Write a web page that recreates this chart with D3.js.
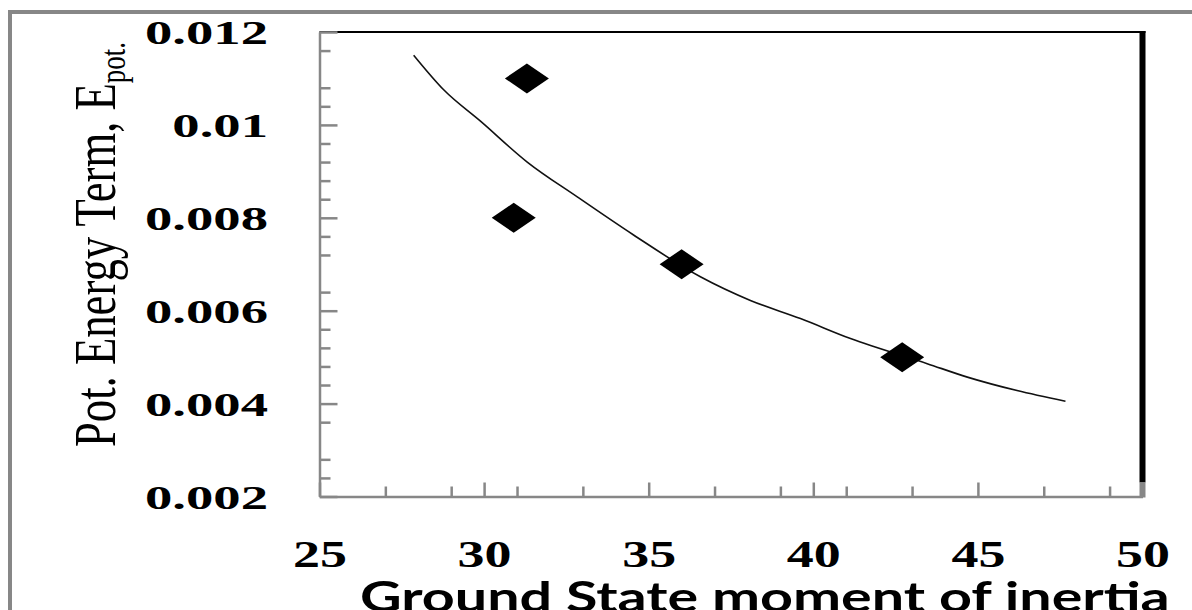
<!DOCTYPE html>
<html>
<head>
<meta charset="utf-8">
<script src="https://cdn.jsdelivr.net/npm/d3@7"></script>
<style>
  html, body { margin: 0; padding: 0; background: #fff; overflow: hidden; }
  svg { display: block; }
</style>
</head>
<body>
<svg id="chart" width="1192" height="610"></svg>
<script>
// ---- data ----
const pointX = [31.3, 30.9, 36.0, 42.7];
const pointY = [0.011, 0.008, 0.007, 0.005];

const fitX = [27.86, 28.78, 29.89, 31.31, 32.83, 34.54, 36.57, 38.09, 39.61, 41.13, 43.46, 44.68, 46.19, 47.66];
const fitY = [0.01150, 0.01075, 0.01008, 0.00920, 0.00845, 0.00763, 0.00673, 0.00622, 0.00583, 0.00540, 0.00486, 0.00457, 0.00428, 0.00405];

const xMajorTicks = [25, 30, 35, 40, 45, 50];
const xTickLabels = ["25", "30", "35", "40", "45", "50"];
const xMinorTicks = [27, 29, 31, 33, 37, 39, 41, 43, 47, 49];

const yMajorTicks = [0.002, 0.004, 0.006, 0.008, 0.010, 0.012];
const yTickLabels = ["0.002", "0.004", "0.006", "0.008", "0.01", "0.012"];
const yMinorTicks = [0.0024, 0.0028, 0.0036, 0.0044, 0.0048, 0.0052, 0.0056, 0.0064,
                     0.0072, 0.0076, 0.0084, 0.0088, 0.0092, 0.0096, 0.0104, 0.0108, 0.0116];

const xTitle = "Ground State moment of inertia";
const yTitleMain = "Pot. Energy Term, E";
const yTitleSub = "pot.";

// ---- layout ----
const svg = d3.select("#chart");
const gray = "#878787";

const x = d3.scaleLinear().domain([25, 50]).range([319.5, 1142.5]);
const y = d3.scaleLinear().domain([0.002, 0.012]).range([496.5, 32]);

// outer gray frame
svg.append("rect")
  .attr("x", 10).attr("y", 12).attr("width", 1300).attr("height", 800)
  .attr("fill", "#fff").attr("stroke", gray).attr("stroke-width", 4);

// plot frame: black top and thick black right border
svg.append("line")
  .attr("x1", x(25)).attr("x2", x(50) + 3).attr("y1", y(0.012)).attr("y2", y(0.012))
  .attr("stroke", "#000").attr("stroke-width", 2);
svg.append("line")
  .attr("x1", x(50)).attr("x2", x(50)).attr("y1", y(0.012) - 1).attr("y2", y(0.002) - 14)
  .attr("stroke", "#000").attr("stroke-width", 6);
svg.append("line")
  .attr("x1", x(50)).attr("x2", x(50)).attr("y1", y(0.002) - 14).attr("y2", y(0.002) + 1)
  .attr("stroke", gray).attr("stroke-width", 6);

// y axis (major + minor)
const gyMinor = svg.append("g").attr("transform", `translate(${x(25)},0)`)
  .call(d3.axisLeft(y).tickValues(yMinorTicks).tickSize(-11).tickFormat(""));
gyMinor.select(".domain").remove();

const gy = svg.append("g").attr("transform", `translate(${x(25)},0)`)
  .call(d3.axisLeft(y).tickValues(yMajorTicks).tickSize(-18).tickSizeOuter(0)
        .tickFormat((d, i) => yTickLabels[i]));

// x axis (major + minor)
const gxMinor = svg.append("g").attr("transform", `translate(0,${y(0.002)})`)
  .call(d3.axisBottom(x).tickValues(xMinorTicks).tickSize(-10).tickFormat(""));
gxMinor.select(".domain").remove();

const gx = svg.append("g").attr("transform", `translate(0,${y(0.002)})`)
  .call(d3.axisBottom(x).tickValues(xMajorTicks).tickSize(-14).tickSizeOuter(0)
        .tickFormat((d, i) => xTickLabels[i]));

svg.selectAll(".tick line").attr("stroke", gray).attr("stroke-width", 2.5);
gy.select(".domain").attr("stroke", gray).attr("stroke-width", 2.5);
gx.select(".domain").attr("stroke", gray).attr("stroke-width", 2.5);
// the tick at 50 is drawn by the frame piece above
gx.selectAll(".tick").filter(d => d === 50).select("line").attr("stroke-width", 0);

// y tick labels: bold serif, stretched horizontally
gy.attr("font-family", "'Liberation Serif', 'Times New Roman', serif")
  .attr("font-size", 34).attr("font-weight", "bold");
const yTexts = gy.selectAll(".tick text").attr("fill", "#000").attr("x", 0).attr("dy", null).attr("y", 0);
let refLen = 0;
yTexts.each(function(d, i) { if (yTickLabels[i].length === 5) refLen = this.getComputedTextLength(); });
const ysx = 123 / refLen;
yTexts.attr("transform", `translate(${268 - x(25)},11.5) scale(${ysx},1)`);

// x tick labels
gx.attr("font-family", "'Liberation Serif', 'Times New Roman', serif")
  .attr("font-size", 38).attr("font-weight", "bold");
const xTexts = gx.selectAll(".tick text").attr("fill", "#000").attr("y", 0).attr("dy", null);
const xlen = xTexts.node().getComputedTextLength();
const xsx = 54 / xlen;
xTexts.attr("transform", `translate(0,${566.5 - y(0.002)}) scale(${xsx},1)`);

// fitted curve
const line = d3.line().x(d => x(d[0])).y(d => y(d[1])).curve(d3.curveMonotoneX);
svg.append("path")
  .datum(fitX.map((v, i) => [v, fitY[i]]))
  .attr("d", line)
  .attr("fill", "none").attr("stroke", "#111").attr("stroke-width", 1.6);

// diamond markers
const hw = 22, hh = 15;
svg.append("g").selectAll("path")
  .data(pointX.map((v, i) => [v, pointY[i]]))
  .join("path")
  .attr("d", d => {
    const cx = x(d[0]), cy = y(d[1]);
    const p = d3.path();
    p.moveTo(cx - hw, cy); p.lineTo(cx, cy - hh); p.lineTo(cx + hw, cy); p.lineTo(cx, cy + hh); p.closePath();
    return p.toString();
  })
  .attr("fill", "#000");

// x title
const xt = svg.append("text")
  .attr("font-family", "Lato, 'Open Sans', sans-serif").attr("font-weight", "bold")
  .attr("font-size", 42).attr("fill", "#000")
  .text(xTitle);
const xtLen = xt.node().getComputedTextLength();
xt.attr("transform", `translate(360,612) scale(${810 / xtLen},1)`);

// y title (rotated, compressed along its length)
const yt = svg.append("text")
  .attr("font-family", "'Liberation Serif', 'Times New Roman', serif")
  .attr("font-size", 60).attr("fill", "#000");
const ytMain = yt.append("tspan").text(yTitleMain);
yt.append("tspan").attr("font-size", 36).attr("dy", 10).text(yTitleSub);
const ytLen = ytMain.node().getComputedTextLength();
yt.attr("transform", `translate(115,447) rotate(-90) scale(${364 / ytLen},1)`);
</script>
</body>
</html>
